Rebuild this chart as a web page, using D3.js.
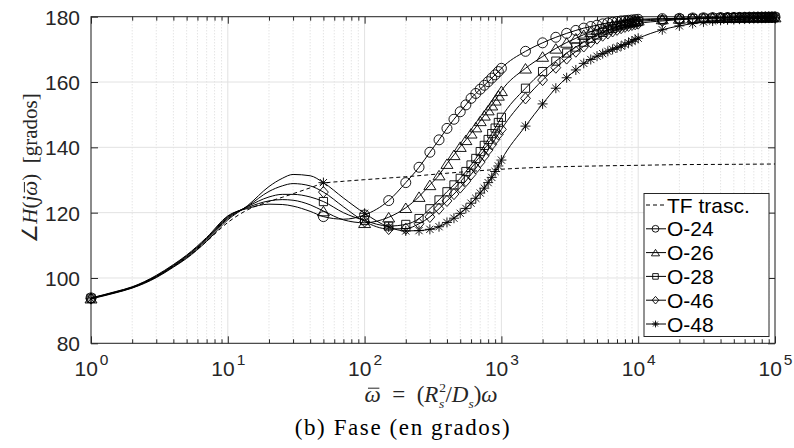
<!DOCTYPE html>
<html>
<head>
<meta charset="utf-8">
<script src="https://cdn.jsdelivr.net/npm/d3@7"></script>
<style>
  body { margin: 0; background: #fff; }
  svg { display: block; }
</style>
</head>
<body>
<script>
// Normalised frequency grid shared by the five measured series
const freqs = [1, 1.5, 2, 3, 4, 5, 7, 10, 14, 20, 25, 30, 40, 50, 70, 100,
  150, 200, 250, 300, 350, 400, 450, 500, 550, 600, 650, 700, 750, 800, 850, 900, 950, 1000,
  1500, 2000, 2500, 3000, 3500, 4000, 4500, 5000, 5500, 6000, 6500, 7000, 7500, 8000, 8500, 9000, 9500, 10000,
  15000, 20000, 25000, 30000, 35000, 40000, 45000, 50000, 55000, 60000, 65000, 70000, 75000, 80000, 85000, 90000, 95000, 100000];

// Grid points that only shape the line (no marker drawn there)
const lineOnlyFreqs = [1.5, 2, 3, 4, 5, 7, 10, 14, 20, 25, 30, 40, 70];

const seriesNames = ["O-24", "O-26", "O-28", "O-46", "O-48"];

const phaseO24 = [93.9, 95.8, 97.3, 100.8, 104.1, 107.0, 112.4, 119.0, 121.3, 122.6, 122.5, 122.0, 120.4, 118.8, 118.0, 119.3,
  123.7, 129.2, 133.9, 138.5, 142.3, 145.8, 148.6, 150.9, 153.0, 155.0, 156.5, 157.8, 159.0, 160.1, 161.2, 162.2, 163.2, 164.2,
  169.4, 172.0, 173.7, 174.9, 175.8, 176.5, 177.0, 177.4, 177.8, 178.1, 178.3, 178.5, 178.7, 178.8, 178.9, 179.0, 179.1, 179.2,
  179.4, 179.5, 179.6, 179.65, 179.7, 179.72, 179.75, 179.77, 179.8, 179.8, 179.82, 179.83, 179.84, 179.85, 179.86, 179.87, 179.88, 179.9];

const phaseO26 = [93.8, 95.7, 97.2, 100.6, 103.9, 106.8, 112.1, 118.8, 121.6, 123.6, 124.0, 123.8, 122.4, 120.5, 117.8, 116.9,
  118.6, 121.5, 124.9, 128.5, 131.5, 135.0, 137.7, 140.2, 142.3, 144.3, 146.2, 148.1, 149.8, 151.4, 152.9, 154.4, 155.9, 157.3,
  164.2, 167.8, 170.3, 172.1, 173.4, 174.5, 175.4, 176.1, 176.7, 177.1, 177.5, 177.8, 178.1, 178.3, 178.5, 178.6, 178.8, 178.9,
  179.3, 179.45, 179.55, 179.6, 179.65, 179.7, 179.72, 179.75, 179.77, 179.8, 179.8, 179.82, 179.83, 179.84, 179.85, 179.86, 179.87, 179.88];

const phaseO28 = [93.8, 95.6, 97.1, 100.5, 103.7, 106.6, 111.9, 118.5, 121.9, 124.8, 125.6, 125.6, 124.8, 123.4, 120.0, 117.6,
  115.9, 116.4, 118.2, 121.2, 123.9, 126.4, 128.5, 130.5, 132.6, 134.6, 136.6, 138.7, 140.6, 142.4, 144.2, 145.9, 147.6, 149.2,
  158.1, 163.2, 166.4, 168.9, 170.7, 172.2, 173.4, 174.4, 175.2, 175.9, 176.4, 176.9, 177.3, 177.6, 177.9, 178.1, 178.3, 178.5,
  179.0, 179.3, 179.45, 179.55, 179.6, 179.65, 179.7, 179.72, 179.75, 179.77, 179.8, 179.8, 179.82, 179.83, 179.84, 179.85, 179.86, 179.87];

const phaseO46 = [93.7, 95.5, 97.0, 100.3, 103.5, 106.3, 111.6, 118.2, 122.0, 126.5, 128.2, 128.9, 128.2, 126.3, 121.8, 117.3,
  115.0, 115.1, 116.6, 118.7, 121.2, 123.6, 125.7, 127.7, 129.7, 131.7, 133.6, 135.5, 137.4, 139.2, 140.9, 142.5, 144.0, 145.5,
  155.0, 160.6, 164.4, 167.2, 169.3, 170.9, 172.2, 173.3, 174.2, 174.9, 175.5, 176.0, 176.5, 176.9, 177.2, 177.5, 177.7, 177.9,
  178.7, 179.1, 179.3, 179.45, 179.55, 179.6, 179.65, 179.7, 179.72, 179.75, 179.77, 179.8, 179.8, 179.82, 179.83, 179.84, 179.85, 179.86];

const phaseO48 = [93.6, 95.4, 96.9, 100.1, 103.3, 106.0, 111.2, 117.8, 122.2, 128.0, 130.5, 131.7, 131.3, 129.2, 124.5, 119.8,
  115.6, 114.4, 114.5, 114.9, 115.7, 117.0, 118.3, 119.8, 121.3, 122.9, 124.4, 126.0, 127.5, 129.2, 130.8, 132.6, 134.3, 136.1,
  146.5, 153.3, 158.1, 161.3, 163.7, 165.7, 166.9, 167.9, 168.7, 169.4, 170.0, 170.5, 171.0, 171.5, 172.0, 172.5, 173.0, 173.4,
  176.0, 177.2, 177.9, 178.4, 178.7, 178.9, 179.05, 179.15, 179.25, 179.3, 179.35, 179.4, 179.45, 179.5, 179.53, 179.56, 179.6, 179.62];

// Transcendental transfer function (drawn as a plain dashed line)
const tfName = "TF trasc.";
const tfFreqs = [1, 1.5, 2, 3, 4, 5, 7, 10, 14, 20, 25, 30, 40, 50, 70, 100, 200, 500, 1000, 2000, 5000, 10000, 20000, 50000, 100000];
const tfPhase = [93.8, 95.6, 97.1, 100.4, 103.5, 106.2, 111.2, 117.0, 120.9, 123.4, 124.7, 125.8, 127.6, 129.0, 129.6, 130.1,
  131.0, 132.4, 133.3, 133.9, 134.3, 134.5, 134.7, 134.8, 134.9];

// Axis ranges
const xDomain = [1, 1e5];
const yTicks = [80, 100, 120, 140, 160, 180];

// ---------------------------------------------------------------
const W = 794, H = 448;
const ink = "#262626";
const sansFont = "'Liberation Sans', Arial, Helvetica, sans-serif";
const serifFont = "'Liberation Serif', 'Times New Roman', serif";
const NBSP = "\u00A0";

const x = d3.scaleLog().domain(xDomain).range([91, 775]);
const y = d3.scaleLinear().domain([yTicks[0], yTicks[yTicks.length - 1]]).range([343.3, 16.7]);

const svg = d3.select("body").append("svg").attr("width", W).attr("height", H);
svg.append("rect").attr("width", W).attr("height", H).attr("fill", "#fff");

const allTicks = x.ticks();
const isDecade = t => Math.abs(Math.log10(t) - Math.round(Math.log10(t))) < 1e-9;
const majorX = allTicks.filter(isDecade);
const minorX = allTicks.filter(t => !isDecade(t));

const [x0, x1] = x.range();
const [yb, yt] = y.range();

// Grid
const grid = svg.append("g");
grid.selectAll("line.minor").data(minorX).join("line")
  .attr("x1", d => x(d)).attr("x2", d => x(d)).attr("y1", yb).attr("y2", yt)
  .attr("stroke", "#cfcfcf").attr("stroke-width", 0.8).attr("stroke-dasharray", "1,2");
grid.selectAll("line.majx").data(majorX).join("line")
  .attr("x1", d => x(d)).attr("x2", d => x(d)).attr("y1", yb).attr("y2", yt)
  .attr("stroke", "#e2e2e2").attr("stroke-width", 1);
grid.selectAll("line.majy").data(yTicks).join("line")
  .attr("x1", x0).attr("x2", x1).attr("y1", d => y(d)).attr("y2", d => y(d))
  .attr("stroke", "#e2e2e2").attr("stroke-width", 1);

// Axes (ticks point inward, box on)
function plain(g) {
  g.select(".domain").remove();
  g.selectAll(".tick line").attr("stroke", ink).attr("stroke-width", 1);
}
svg.append("g").attr("transform", `translate(0,${yb})`)
  .call(d3.axisBottom(x).tickValues(minorX).tickSize(-4).tickFormat("")).call(plain);
svg.append("g").attr("transform", `translate(0,${yt})`)
  .call(d3.axisTop(x).tickValues(minorX).tickSize(-4).tickFormat("")).call(plain);
svg.append("g").attr("transform", `translate(0,${yt})`)
  .call(d3.axisTop(x).tickValues(majorX).tickSize(-7).tickFormat("")).call(plain);
svg.append("g").attr("transform", `translate(${x1},0)`)
  .call(d3.axisRight(y).tickValues(yTicks).tickSize(-7).tickFormat("")).call(plain);

const yAxis = svg.append("g").attr("transform", `translate(${x0},0)`)
  .call(d3.axisLeft(y).tickValues(yTicks).tickSize(-7).tickPadding(11).tickFormat(d3.format("d")))
  .call(plain);
yAxis.attr("font-family", sansFont).attr("font-size", 21);
yAxis.selectAll(".tick text").attr("fill", ink).attr("dy", "0.36em");

const xAxis = svg.append("g").attr("transform", `translate(0,${yb})`)
  .call(d3.axisBottom(x).tickValues(majorX).tickSize(-7).tickFormat(""))
  .call(plain);
xAxis.attr("font-family", sansFont).attr("font-size", 21);
xAxis.selectAll(".tick text").each(function (d) {
  const t = d3.select(this);
  t.text(null).attr("y", 33).attr("dy", null).attr("fill", ink);
  t.append("tspan").text("10");
  t.append("tspan").attr("dx", 2).attr("dy", -11).attr("font-size", 15.5).text(Math.round(Math.log10(d)));
});

svg.append("rect").attr("x", x0).attr("y", yt).attr("width", x1 - x0).attr("height", yb - yt)
  .attr("fill", "none").attr("stroke", ink).attr("stroke-width", 1);

// Marker shapes (unfilled), r = half size
function markerPath(type, r) {
  const p = d3.path();
  if (type === "circle") {
    p.moveTo(r, 0); p.arc(0, 0, r, 0, 2 * Math.PI);
  } else if (type === "triangle") {
    const h = r * 0.95;
    p.moveTo(0, -h); p.lineTo(r * 1.2, h); p.lineTo(-r * 1.2, h); p.closePath();
  } else if (type === "square") {
    const s = r * 0.82;
    p.rect(-s, -s, 2 * s, 2 * s);
  } else if (type === "diamond") {
    p.moveTo(0, -r * 1.12); p.lineTo(r * 0.98, 0); p.lineTo(0, r * 1.12); p.lineTo(-r * 0.98, 0); p.closePath();
  } else if (type === "asterisk") {
    const d = r * 0.72;
    p.moveTo(0, -r); p.lineTo(0, r);
    p.moveTo(-r, 0); p.lineTo(r, 0);
    p.moveTo(-d, -d); p.lineTo(d, d);
    p.moveTo(-d, d); p.lineTo(d, -d);
  }
  return p.toString();
}
const markerTypes = ["circle", "triangle", "square", "diamond", "asterisk"];

const seriesValues = [phaseO24, phaseO26, phaseO28, phaseO46, phaseO48];
const series = seriesNames.map((name, i) => ({
  name,
  marker: markerTypes[i],
  pts: freqs.map((f, k) => ({ f, v: seriesValues[i][k], mark: !lineOnlyFreqs.includes(f) }))
}));

const line = d3.line().x(d => x(d.f)).y(d => y(d.v)).curve(d3.curveMonotoneX);

// Dashed transcendental curve
svg.append("path")
  .datum(tfFreqs.map((f, k) => ({ f, v: tfPhase[k] })))
  .attr("d", line)
  .attr("fill", "none").attr("stroke", "#000").attr("stroke-width", 1)
  .attr("stroke-dasharray", "4,3");

// Measured series: line plus markers at the sample points
const sg = svg.append("g").selectAll("g").data(series).join("g");
sg.append("path").attr("d", d => line(d.pts))
  .attr("fill", "none").attr("stroke", "#000").attr("stroke-width", 1);
sg.each(function (s) {
  d3.select(this).selectAll("path.mk").data(s.pts.filter(p => p.mark)).join("path")
    .attr("class", "mk")
    .attr("transform", p => `translate(${x(p.f)},${y(p.v)})`)
    .attr("d", markerPath(s.marker, 5))
    .attr("fill", "none").attr("stroke", "#000").attr("stroke-width", 0.9);
});

// Legend
const lg = svg.append("g").attr("transform", "translate(644,193.5)");
lg.append("rect").attr("width", 125).attr("height", 143)
  .attr("fill", "#fff").attr("stroke", ink).attr("stroke-width", 1);
const entries = [{ name: tfName, dashed: true }].concat(series.map(s => ({ name: s.name, marker: s.marker })));
const le = lg.selectAll("g.entry").data(entries).join("g")
  .attr("transform", (d, i) => `translate(0,${11.5 + i * 23.8})`);
le.append("line").attr("x1", 2).attr("x2", 22).attr("y1", 0).attr("y2", 0)
  .attr("stroke", "#000").attr("stroke-width", 1)
  .attr("stroke-dasharray", d => d.dashed ? "4,3" : null);
le.filter(d => d.marker).append("path")
  .attr("transform", "translate(11.5,0)")
  .attr("d", d => markerPath(d.marker, 3.4))
  .attr("fill", "none").attr("stroke", "#000").attr("stroke-width", 0.9);
le.append("text").attr("x", 23).attr("dy", "0.36em")
  .attr("font-family", sansFont).attr("font-size", 21).attr("fill", "#000")
  .text(d => d.name);

// Draws a bar accent over one character of a text element
function accentBar(textNode, charIndex, parent, baseline, fontSize) {
  const e = textNode.getExtentOfChar(charIndex);
  parent.append("line")
    .attr("x1", e.x + e.width * 0.22).attr("x2", e.x + e.width * 0.92)
    .attr("y1", baseline - fontSize * 0.6).attr("y2", baseline - fontSize * 0.6)
    .attr("stroke", ink).attr("stroke-width", 1);
}

// Y axis label:  ∠H(jω̄)  [grados]
const ylg = svg.append("g").attr("transform", "translate(37,168) rotate(-90)");
const yl = ylg.append("text")
  .attr("text-anchor", "middle")
  .attr("font-family", serifFont).attr("font-size", 21).attr("fill", ink);
yl.append("tspan").text("\u2220");
yl.append("tspan").attr("font-style", "italic").text("H");
yl.append("tspan").text("(");
yl.append("tspan").attr("font-style", "italic").text("j\u03C9");
yl.append("tspan").text(")" + NBSP + NBSP + "[grados]");
accentBar(yl.node(), 4, ylg, 0, 21);

// X axis label:  ω̄ = (R_s^2 / D_s) ω
const xlg = svg.append("g");
const xl = xlg.append("text")
  .attr("x", 431).attr("y", 402)
  .attr("text-anchor", "middle")
  .attr("font-family", serifFont).attr("font-size", 23).attr("fill", ink);
xl.append("tspan").attr("font-style", "italic").text("\u03C9");
xl.append("tspan").text(NBSP + NBSP + "=" + NBSP + NBSP + "(");
xl.append("tspan").attr("font-style", "italic").text("R");
xl.append("tspan").attr("font-size", 13.5).attr("dx", 1).attr("dy", -10).text("2");
xl.append("tspan").attr("font-size", 13.5).attr("font-style", "italic").attr("dx", -7).attr("dy", 16).text("s");
xl.append("tspan").attr("dx", 1).attr("dy", -6).text("/");
xl.append("tspan").attr("font-style", "italic").text("D");
xl.append("tspan").attr("font-size", 13.5).attr("font-style", "italic").attr("dy", 6).text("s");
xl.append("tspan").attr("dy", -6).text(")");
xl.append("tspan").attr("font-style", "italic").text("\u03C9");
accentBar(xl.node(), 0, xlg, 402, 23);

// Caption
svg.append("text")
  .attr("x", 403).attr("y", 435)
  .attr("text-anchor", "middle")
  .attr("font-family", serifFont).attr("font-size", 23).attr("letter-spacing", 1.6).attr("fill", "#000")
  .text("(b) Fase (en grados)");
</script>
</body>
</html>
